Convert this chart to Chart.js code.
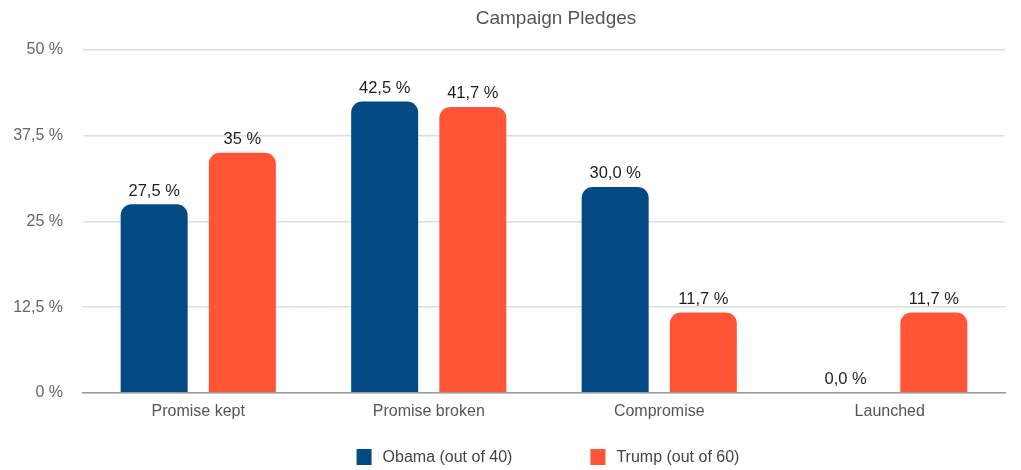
<!DOCTYPE html>
<html>
<head>
<meta charset="utf-8">
<script src="https://cdn.jsdelivr.net/npm/chart.js@4/dist/chart.umd.min.js"></script>
<style>
  html, body { margin: 0; padding: 0; background: #fff; }
  #wrap { width: 1021px; height: 470px; }
</style>
</head>
<body>
<div id="wrap"><canvas id="pledgeChart"></canvas></div>
<script>
const categories = ['Promise kept', 'Promise broken', 'Compromise', 'Launched'];
const obamaValues = [27.5, 42.5, 30.0, 0.0];
const trumpValues = [35, 41.7, 11.7, 11.7];
const obamaLabels = ['27,5 %', '42,5 %', '30,0 %', '0,0 %'];
const trumpLabels = ['35 %', '41,7 %', '11,7 %', '11,7 %'];
const yTicks = [0, 12.5, 25, 37.5, 50];

const FONT = '"Helvetica Neue", Helvetica, Arial, "Liberation Sans", sans-serif';
const BLUE = '#034a85';
const ORANGE = '#ff5436';

// value text above each bar
const barLabels = {
  id: 'barLabels',
  afterDatasetsDraw(chart) {
    const ctx = chart.ctx;
    ctx.save();
    ctx.font = '16.5px ' + FONT;
    ctx.fillStyle = '#1e1e1e';
    ctx.textAlign = 'center';
    ctx.textBaseline = 'bottom';
    chart.data.datasets.forEach((ds, i) => {
      chart.getDatasetMeta(i).data.forEach((bar, j) => {
        ctx.fillText(ds.valueLabels[j], bar.x, bar.y - 5);
      });
    });
    ctx.restore();
  }
};

// title + legend row, centred over the plot area
const headerAndKey = {
  id: 'headerAndKey',
  afterDraw(chart) {
    const ctx = chart.ctx;
    const area = chart.chartArea;
    const mid = (area.left + area.right) / 2;
    ctx.save();
    ctx.font = '19px ' + FONT;
    ctx.fillStyle = '#555';
    ctx.textAlign = 'center';
    ctx.textBaseline = 'middle';
    ctx.fillText('Campaign Pledges', mid + 12, 19);

    ctx.font = '16px ' + FONT;
    ctx.textAlign = 'left';
    const box = 16, textGap = 10, itemGap = 78;
    const items = chart.data.datasets.map(ds => ({
      label: ds.label, color: ds.backgroundColor,
      w: box + textGap + ctx.measureText(ds.label).width
    }));
    const total = items.reduce((s, it) => s + it.w, 0) + itemGap * (items.length - 1);
    let x = mid + 4 - total / 2;
    const y = 457;
    items.forEach(it => {
      ctx.fillStyle = it.color;
      ctx.fillRect(x, y - box / 2, box - 1, box);
      ctx.fillStyle = '#444';
      ctx.fillText(it.label, x + box + textGap, y + 1);
      x += it.w + itemGap;
    });
    ctx.restore();
  }
};

new Chart(document.getElementById('pledgeChart'), {
  type: 'bar',
  data: {
    labels: categories,
    datasets: [
      {
        label: 'Obama (out of 40)',
        data: obamaValues,
        valueLabels: obamaLabels,
        backgroundColor: BLUE,
        borderRadius: { topLeft: 11, topRight: 11 },
        borderSkipped: 'start',
        categoryPercentage: 0.765,
        barPercentage: 0.76
      },
      {
        label: 'Trump (out of 60)',
        data: trumpValues,
        valueLabels: trumpLabels,
        backgroundColor: ORANGE,
        borderRadius: { topLeft: 11, topRight: 11 },
        borderSkipped: 'start',
        categoryPercentage: 0.765,
        barPercentage: 0.76
      }
    ]
  },
  options: {
    responsive: true,
    maintainAspectRatio: false,
    animation: false,
    layout: { padding: { top: 50, bottom: 40, left: 0, right: 16 } },
    plugins: {
      legend: { display: false },
      title: { display: false },
      tooltip: { enabled: false }
    },
    scales: {
      x: {
        grid: { display: false, drawTicks: false },
        border: { display: true, color: '#9a9a9a', width: 1.5 },
        ticks: { color: '#555', padding: 9, font: { family: FONT, size: 16 } }
      },
      y: {
        min: 0,
        max: 50,
        afterFit(scale) { scale.width = 83; },
        afterBuildTicks(scale) { scale.ticks = yTicks.map(v => ({ value: v })); },
        grid: {
          drawTicks: false,
          color: '#dedede',
          lineWidth: 1.5
        },
        border: { display: false },
        ticks: {
          color: '#666',
          padding: 20,
          font: { family: FONT, size: 16 },
          callback: v => String(v).replace('.', ',') + ' %'
        }
      }
    }
  },
  plugins: [barLabels, headerAndKey]
});
</script>
</body>
</html>
